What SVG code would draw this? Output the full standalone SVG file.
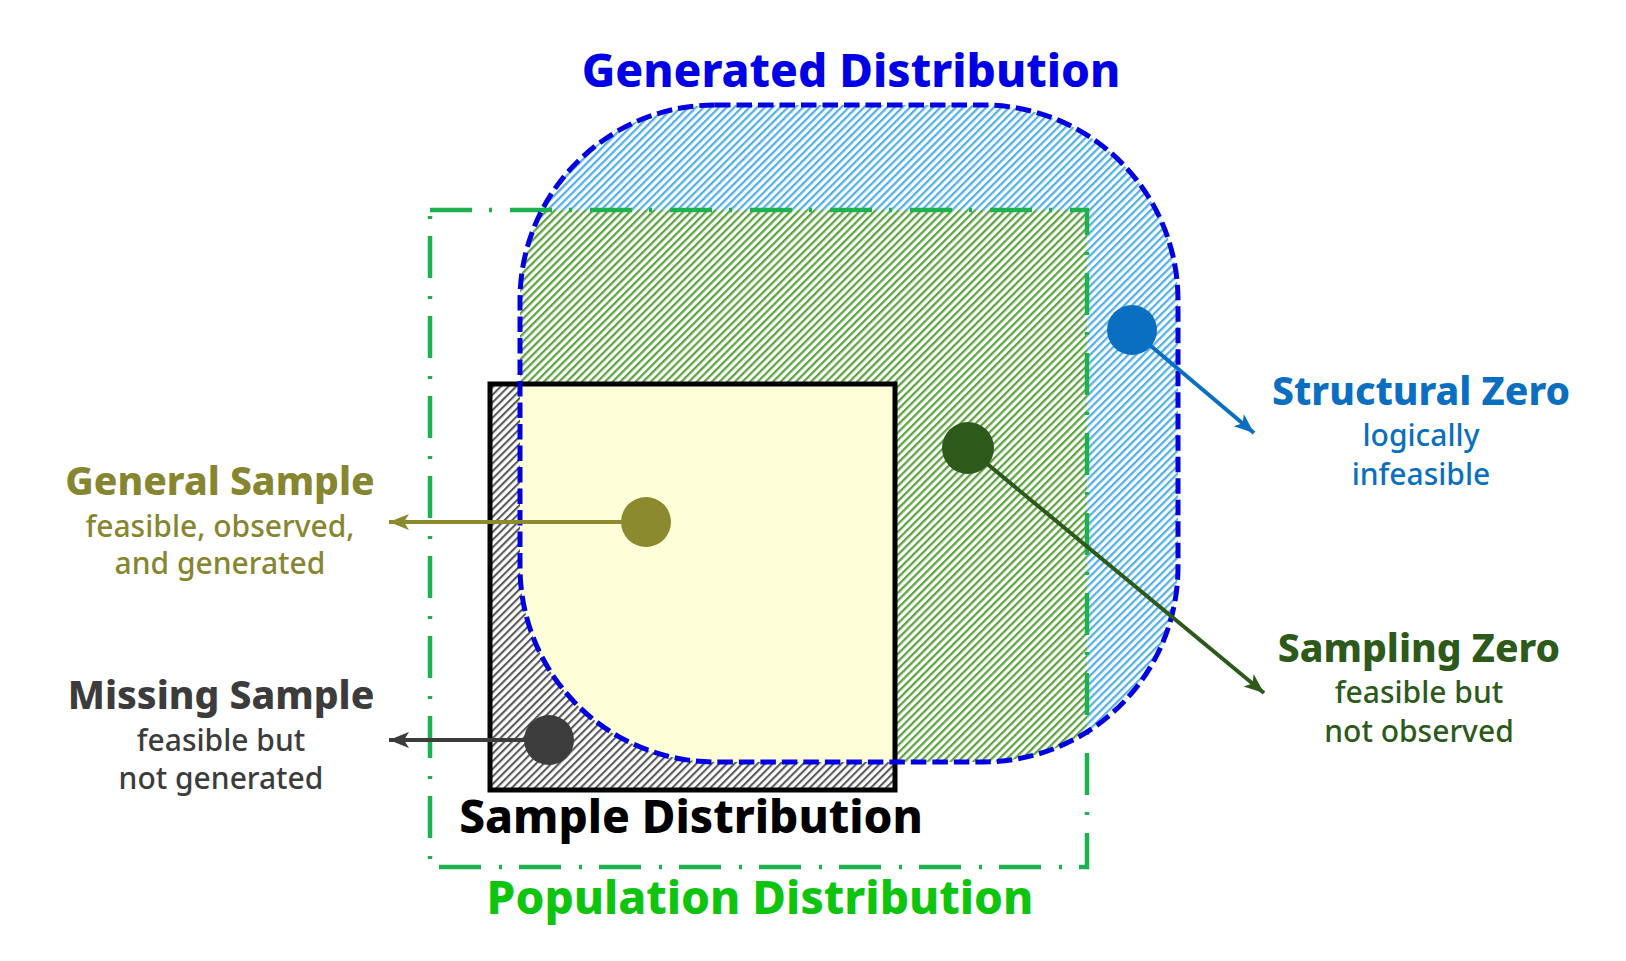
<svg xmlns="http://www.w3.org/2000/svg" width="1626" height="961" viewBox="0 0 1626 961">
<style>
  .t { font-family: "Noto Sans", "Open Sans", sans-serif; text-anchor: middle; }
  .big { font-size: 46px; font-weight: 800; }
  .head { font-size: 39px; font-weight: 800; }
  .sub { font-size: 30px; font-weight: 500; }
</style>
<defs>
  <pattern id="hBlue" patternUnits="userSpaceOnUse" width="5.4" height="10" patternTransform="rotate(45)">
    <rect x="0" y="0" width="2.3" height="10" fill="#55b2e4"/>
  </pattern>
  <pattern id="hGreen" patternUnits="userSpaceOnUse" width="5.4" height="10" patternTransform="rotate(45)">
    <rect x="0" y="0" width="5.4" height="10" fill="#ffffff"/>
    <rect x="0" y="0" width="2.3" height="10" fill="#5fa543"/>
  </pattern>
  <pattern id="hGrey" patternUnits="userSpaceOnUse" width="5.4" height="10" patternTransform="rotate(45)">
    <rect x="0" y="0" width="5.4" height="10" fill="#ffffff"/>
    <rect x="0" y="0" width="2.1" height="10" fill="#5a5a5a"/>
  </pattern>
  <clipPath id="genClip">
    <rect x="520" y="105" width="658" height="657" rx="195" ry="195"/>
  </clipPath>
  <marker id="aOlive" markerUnits="userSpaceOnUse" markerWidth="22" markerHeight="18" refX="20" refY="8" orient="auto">
    <path d="M0,0 L20,8 L0,16 L5,8 Z" fill="#8b8a2f"/>
  </marker>
  <marker id="aGrey" markerUnits="userSpaceOnUse" markerWidth="22" markerHeight="18" refX="20" refY="8" orient="auto">
    <path d="M0,0 L20,8 L0,16 L5,8 Z" fill="#3c3c3c"/>
  </marker>
  <marker id="aBlue" markerUnits="userSpaceOnUse" markerWidth="22" markerHeight="18" refX="20" refY="8" orient="auto">
    <path d="M0,0 L20,8 L0,16 L5,8 Z" fill="#0b6fc1"/>
  </marker>
  <marker id="aGreen" markerUnits="userSpaceOnUse" markerWidth="22" markerHeight="18" refX="20" refY="8" orient="auto">
    <path d="M0,0 L20,8 L0,16 L5,8 Z" fill="#2d5a1b"/>
  </marker>
</defs>

<rect x="0" y="0" width="1626" height="961" fill="#ffffff"/>

<g id="generated-fill">
  <rect x="520" y="105" width="658" height="657" rx="195" ry="195" fill="url(#hBlue)"/>
</g>
<g id="population-fill">
  <rect x="430" y="210" width="657" height="657" fill="url(#hGreen)" clip-path="url(#genClip)"/>
</g>
<g id="sample-fill">
  <rect x="490" y="384" width="405" height="406" fill="url(#hGrey)"/>
  <rect x="490" y="384" width="405" height="406" fill="#fefed9" clip-path="url(#genClip)"/>
</g>

<g id="population-distribution">
  <rect x="430" y="210" width="657" height="657" fill="none" stroke="#1db150" stroke-width="4.5" stroke-dasharray="42 17 3 18"/>
  <text class="t big" x="760" y="914" fill="#0ec40e">Population Distribution</text>
</g>
<g id="sample-distribution">
  <rect x="490" y="384" width="405" height="406" fill="none" stroke="#000000" stroke-width="5"/>
  <text class="t big" x="691" y="833" fill="#000000">Sample Distribution</text>
</g>
<g id="generated-distribution">
  <rect x="520" y="105" width="658" height="657" rx="195" ry="195" fill="none" stroke="#0000e0" stroke-width="5" stroke-dasharray="15.5 6"/>
  <text class="t big" x="851" y="87" fill="#0000e6">Generated Distribution</text>
</g>

<g id="connectors">
  <line x1="646" y1="522" x2="389" y2="522" stroke="#8b8a2f" stroke-width="4" marker-end="url(#aOlive)"/>
  <line x1="549" y1="740" x2="389" y2="740" stroke="#3c3c3c" stroke-width="4" marker-end="url(#aGrey)"/>
  <line x1="1132" y1="330" x2="1254" y2="433" stroke="#0b6fc1" stroke-width="4" marker-end="url(#aBlue)"/>
  <line x1="968" y1="448" x2="1264" y2="693" stroke="#2d5a1b" stroke-width="4" marker-end="url(#aGreen)"/>
</g>

<g id="general-sample">
  <circle cx="646" cy="522" r="25" fill="#8b8a2f"/>
  <text class="t head" x="220" y="495" fill="#878630">General Sample</text>
  <text class="t sub" x="220" y="537" fill="#878630">feasible, observed,</text>
  <text class="t sub" x="220" y="574" fill="#878630">and generated</text>
</g>
<g id="missing-sample">
  <circle cx="549" cy="740" r="25" fill="#3c3c3c"/>
  <text class="t head" x="221" y="709" fill="#3c3c3c">Missing Sample</text>
  <text class="t sub" x="221" y="751" fill="#3c3c3c">feasible but</text>
  <text class="t sub" x="221" y="789" fill="#3c3c3c">not generated</text>
</g>
<g id="structural-zero">
  <circle cx="1132" cy="330" r="25" fill="#0b6fc1"/>
  <text class="t head" x="1421" y="405" fill="#0b6fc1">Structural Zero</text>
  <text class="t sub" x="1421" y="446" fill="#0b6fc1">logically</text>
  <text class="t sub" x="1421" y="485" fill="#0b6fc1">infeasible</text>
</g>
<g id="sampling-zero">
  <circle cx="968" cy="448" r="26" fill="#2d5a1b"/>
  <text class="t head" x="1419" y="662" fill="#2d5a1b">Sampling Zero</text>
  <text class="t sub" x="1419" y="703" fill="#2d5a1b">feasible but</text>
  <text class="t sub" x="1419" y="742" fill="#2d5a1b">not observed</text>
</g>
</svg>
